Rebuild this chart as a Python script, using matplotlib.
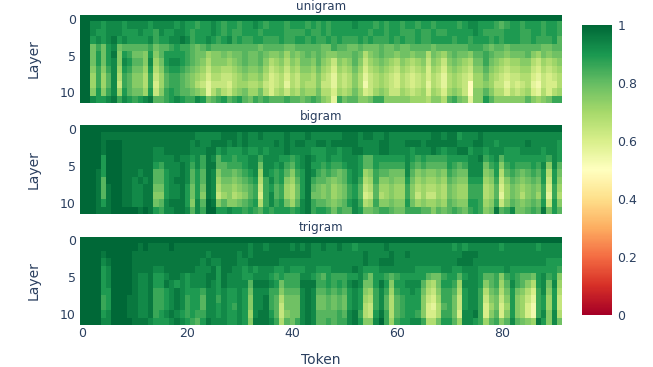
# Three token/layer heatmaps (unigram, bigram, trigram) sharing one colorbar.
# Each row below is one layer, one hex digit per token: value = 0.46 + 0.036 * digit

import numpy as np
import matplotlib
matplotlib.use("Agg")
import matplotlib.pyplot as plt
from matplotlib.colors import LinearSegmentedColormap

unigram_rows = [
    "ffffffffff ffffffffff ffffffffff ffffffffff ffffffffff ffffffffff ffffffffff ffffffffff ffffffffff ff",
    "ffddcdddcd dddcddddcd ccbccdcbcc bccdcbcccb cccbcbcbcc ccdcccbcbc cbccbccbcc ccbcddcccb abccbcccbc cb",
    "ffdccdddcc cdccbdccdd cbcccdcbcb bcccbccccb bbbcbbcbcc cccccbccbc cbbbcbbcbb cccccdcbbb bcccbbccbc cb",
    "ffcdcdecdc cccdbccdde dbccdcbcdb cbbccbbbcb bccbcbbcbc bbbcbcbbbc bcbbcbbccc cbccbcccbc bcccbbcbbb ca",
    "ff9b9cd9aa aaab9aabcb ba9abaaaaa aaaa9aaaa9 9aaaaa99ba a99a999a99 a99aaaa9aa aaaabbba9a a9aaaaaa99 aa",
    "ff9c9ce8cb 998c8acccc ba99788989 9a99a98897 989a9a9889 99a9689a99 8998996987 9a998aaba9 98999a8798 99",
    "ff9c9cd8dc aa8d79cddc ba98688878 9a99a86786 87998a8758 78a8578987 6876785875 8987699b98 7677886576 78",
    "ff8b8bd7cb 997c68bccb a987577667 8988975675 7688797647 6797467876 5765674764 7876588a87 6566775465 67",
    "ff7b7ad6ba 886b57abba 9876466556 7877864564 6577686536 5686356765 4654564653 6765477976 5455664354 56",
    "ff7b7ad5ba 886b47abba 9865355546 7766754563 6576685536 5686256765 4654563653 6765177875 5354563254 46",
    "ff8c8bd7ca 997c58bcba a987368657 8977964675 7687796647 6797457875 5765674764 7875188a86 6465674364 67",
    "ffdccdebdc bcdeaabcdc bbdc9abcab ca9babaaab aa9aba873b 9aa889bb88 8887776886 ab98388ca8 88888a8789 bb",
]

bigram_rows = [
    "ffffffffff ffffffffff ffffffffff ffffffffff ffffffffff ffffffffff ffffffffff ffffffffff ffffffffff ff",
    "ffffeeeeee eeeeeeeeee eedddddeee deddedddde dddedddddd eeedeedded dddddddeed eecdddeddd dddddddddd dd",
    "ffffefffee eeeeeeeeee ededdeeede dedddddede deeddeedee eeeddddeed ddeeedeeee eedddeeddc dddddedddd dc",
    "ffffefffee eeeeddeeee edddeecdcc cdccdcddde ddddcccddc ddeedddeed dddcdddedc ddeecddcdd dcccddddcd dc",
    "ffffcfffee eeeedddded dcdbedaccb ccddbdddcc bcdedccdcc dddcaacccc ccdcbcbbbb ccccddebcd accccccccb dc",
    "ffffcfffee eeeecbddde dbdbeeaabb bcdd9ddcdb acdeccbcbb cddcaacbbb bbdbabaaaa cbabddd9bc 8bcbbbcbd8 da",
    "fffecfffee edeeaacdde dacaed8aa9 abcd7dcbca 8bcedbaba9 acdc78baa9 99da898898 ba99ddd89c 6aba9abac6 c9",
    "fffeafffee dedeaacdee dacaed7998 9abc6bdbc8 7acebaa989 acdb67b889 88c9787787 a988ccc78b 58a989a9c5 c8",
    "fffeaeffee ddee99cdde c9c9ed6887 89ab5bcab7 69cea98978 9bca56a778 77b8676676 9877bbb67a 47987898b4 b7",
    "fffeaeffee ddee88cdde c9c8ed5786 78ab4bdab7 69ce998978 9bca45a678 77b8575576 9877bbb67a 37986897b3 b6",
    "fffeceffee ddee9adeee c8dafe8a88 9abc6bdbc9 7adebaa989 acdb67b889 88c9787787 a988ccb78b 58a989a9c5 c8",
    "fffeeeffff fefecbddee dadbffccdc cbcbacbccc bcdebccb9b aadc99abba 99bbbaa8a9 aba9bcb89e abd99abae9 ca",
]

trigram_rows = [
    "ffffffffff ffffffffff ffffffffff ffffffffff ffffffffff ffffffffff ffffffffff ffffffffff ffffffffff ff",
    "ffffffffff fefeeeefee eeeeeeeeee eedeedeeee dededdedde ddcddddded dddddddddd dcdcdddddd cddddddcdd dd",
    "ffffefffff eeeeeeeeee eeeedeeeee dedeeeeeee eeeedddddd ddddedddde ddeddddddd dddeeedddd dddddddddd dd",
    "ffffdeffff eeeeeeeeee eeededdeee ddeeeeeedd dddddddddd ddddeddeee dddddddddd ddeeeddddd dddddddddc cc",
    "ffffcdffff eeeeddeeee eedddeceed dcdcdddccd cccddcccdd ddedcccddd ddddcccccd dccdddcccc cdcccccccc cb",
    "ffffcdffff eddeccdeed cdddeecedd dccdddcbcb bbddcbacbb bccdb9ccba bccccca99b ccacddcaab 8bcbaa9cdb c8",
    "ffffcdffff eddeccedcd cdddedcedd ddaeeedc9b bbeeebbcbc bded99cec8 ccddda769c cb7dddc8ab 7adba86cd9 d7",
    "ffffccffff eddebbcded cccbddcdcc dc9dddbb8a aadedaabab acdc87bdb7 bccdc9658b ba6cddb69a 69c9864bd8 c6",
    "ffffbcfffe eddebbcded bccaddbdcc dc8ddeba69 99ded99a9a 9cdc76bda6 abccc8547b b95cddb589 58c8753bc7 c5",
    "ffffbcfffe eddebbcded bccaddcdcb dc8ddeba59 99ded99a9a 9cdc65bda6 abccc8436a b95cddb479 47c8742bc7 c5",
    "ffffcdfffe eddebcdedc bcbbddcdcc dc7deeca58 99dedaaaab adeb65ceb6 abccb8446b b94ddeb48a 48c8742bd8 d6",
    "ffffddffff eeedcccded cbacedddcc dc8eeedb6a 9bdedaabab bdec88dfb7 bccddb669c ca7ddcb7ab 8ada987ec8 d9",
]

panel_titles = ["unigram", "bigram", "trigram"]
layer_ticks = [0, 5, 10]
token_ticks = [0, 20, 40, 60, 80]
bar_ticks = [0, 0.2, 0.4, 0.6, 0.8, 1]
bar_labels = ["0", "0.2", "0.4", "0.6", "0.8", "1"]

# plotly RdYlGn scale
rdylgn = ["#a50026", "#d73027", "#f46d43", "#fdae61", "#fee08b", "#ffffbf",
          "#d9ef8b", "#a6d96a", "#66bd63", "#1a9850", "#006837"]
cmap = LinearSegmentedColormap.from_list("rdylgn", rdylgn)

text_color = "#2a3f5f"
W, H = 653, 367


def decode(rows):
    return np.array([[0.46 + 0.036 * int(c, 16) for c in r.replace(" ", "")] for r in rows])


def px_axes(fig, left, top, right, bottom):
    return fig.add_axes([left / W, 1 - bottom / H, (right - left) / W, (bottom - top) / H])


fig = plt.figure(figsize=(W / 100, H / 100), dpi=100)

panel_tops = [15, 125.5, 236.5]
matrices = [decode(unigram_rows), decode(bigram_rows), decode(trigram_rows)]

for i, (name, z) in enumerate(zip(panel_titles, matrices)):
    top = panel_tops[i]
    ax = px_axes(fig, 80, top, 562, top + 88.5)
    im = ax.imshow(z, cmap=cmap, vmin=0, vmax=1, aspect="auto", interpolation="nearest")
    for s in ax.spines.values():
        s.set_visible(False)
    ax.set_yticks(layer_ticks)
    ax.tick_params(axis="y", length=0, labelsize=9, labelcolor=text_color, pad=3)
    ax.tick_params(axis="x", length=0, labelsize=9, labelcolor=text_color, pad=1.5)
    if i == 2:
        ax.set_xticks(token_ticks)
    else:
        ax.set_xticks([])
    fig.text(321 / W, 1 - (top - 8.5) / H, name, ha="center", va="center",
             fontsize=8.6, color=text_color)
    fig.text(34 / W, 1 - (top + 44) / H, "Layer", rotation=90, ha="center", va="center",
             fontsize=10, color=text_color)

fig.text(321 / W, 1 - 360 / H, "Token", ha="center", va="center", fontsize=10, color=text_color)

cax = px_axes(fig, 582, 25, 612, 314.5)
cb = fig.colorbar(im, cax=cax)
cb.outline.set_visible(False)
cb.set_ticks(bar_ticks)
cb.set_ticklabels(bar_labels)
cb.ax.tick_params(length=0, labelsize=9, labelcolor=text_color, pad=4)

fig.savefig("out.png", dpi=100)
